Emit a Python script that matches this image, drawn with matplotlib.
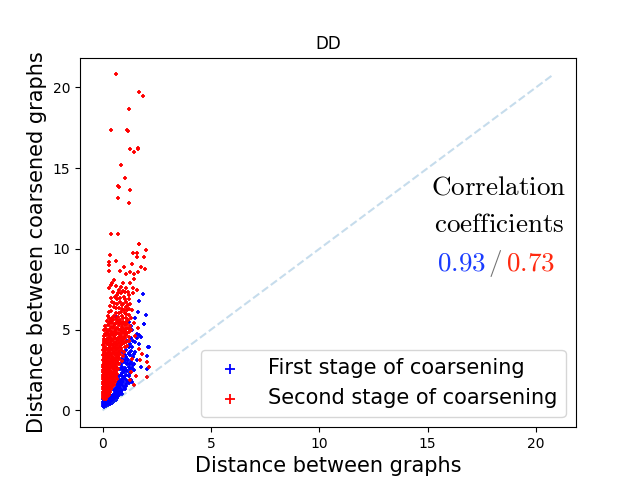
import matplotlib as mpl
mpl.use('Agg')
import matplotlib.pyplot as plt

plt.rcParams['mathtext.fontset'] = 'cm'

# first stage of coarsening (blue)
blue_pts = [
    (1.87, 7.18), (1.70, 6.77), (1.64, 6.1), (2.0, 5.92), (1.51, 5.73), (0.63, 5.78),
    (1.93, 5.36), (1.59, 4.74), (1.79, 4.55), (1.41, 4.3), (2.16, 3.93), (2.05, 3.35),
    (1.79, 2.69), (2.05, 2.59), (1.44, 2.86), (1.59, 3.1),
    (1.22, 5.5), (1.3, 5.2), (1.36, 5.0), (1.67, 4.66), (1.9, 5.34), (1.59, 4.47),
    (1.51, 4.24), (1.36, 3.93), (1.44, 3.52), (2.1, 3.93), (1.22, 3.52), (1.13, 3.21),
    (1.28, 2.9), (1.06, 2.48), (0.98, 2.07), (0.9, 1.76), (0.75, 1.45), (0.6, 1.14),
    (1.25, 3.4), (1.18, 3.1), (1.3, 3.0), (1.12, 2.85), (1.22, 2.7), (1.35, 2.6),
    (1.05, 2.6), (1.15, 2.45), (1.28, 2.3), (0.98, 2.35), (1.08, 2.2), (1.2, 2.1),
    (0.92, 2.1), (1.02, 1.95), (1.14, 1.85), (0.86, 1.9), (0.95, 1.75), (1.06, 1.65),
    (0.8, 1.7), (0.88, 1.55), (0.98, 1.45), (1.1, 1.5), (0.74, 1.5), (0.82, 1.38),
    (0.92, 1.28), (0.68, 1.35), (0.76, 1.22), (0.85, 1.12), (0.62, 1.2), (0.7, 1.08),
    (0.78, 0.98), (0.56, 1.05), (0.64, 0.95), (0.72, 0.88), (0.5, 0.95), (0.58, 0.85),
    (0.66, 0.78), (1.0, 3.0), (0.9, 2.7), (1.1, 3.3), (1.4, 3.3), (1.32, 3.7),
    (1.2, 3.9), (1.05, 3.4), (0.95, 2.5), (0.85, 2.2), (0.75, 1.9), (0.7, 1.65), (0.6, 1.4),
    (0.95, 3.6), (1.1, 3.75), (1.25, 4.1), (1.15, 4.3), (1.3, 4.5), (0.9, 3.2),
    (1.05, 3.15), (1.2, 3.55), (0.85, 2.9), (1.15, 2.95), (0.8, 2.55), (0.9, 2.3),
    (1.25, 2.55), (0.78, 2.1), (0.95, 1.95), (1.3, 1.9), (0.72, 1.75), (1.2, 1.7),
    (0.65, 1.55), (1.02, 1.3), (0.55, 1.25), (0.88, 1.02), (0.45, 0.85), (0.62, 0.72),
    (0.35, 0.95), (1.4, 2.8), (1.45, 2.5), (1.5, 3.6), (1.7, 4.1), (1.35, 1.75),
    (0.02, 0.25), (0.05, 0.3), (0.08, 0.22), (0.12, 0.32), (0.16, 0.28), (0.2, 0.38),
    (0.25, 0.33), (0.3, 0.42), (0.35, 0.38), (0.4, 0.48), (0.45, 0.45), (0.5, 0.55),
    (0.55, 0.6), (0.6, 0.65), (0.03, 0.4), (0.07, 0.45), (0.1, 0.5), (0.14, 0.42),
    (0.18, 0.52), (0.22, 0.47), (0.27, 0.55), (0.32, 0.5), (0.37, 0.6), (0.42, 0.58),
    (0.47, 0.68), (0.52, 0.72), (0.04, 0.55), (0.08, 0.62), (0.12, 0.58), (0.17, 0.66),
    (0.22, 0.62), (0.28, 0.7), (0.33, 0.65), (0.38, 0.75), (0.43, 0.8), (0.03, 0.7),
    (0.09, 0.75), (0.14, 0.8), (0.2, 0.76), (0.26, 0.85), (0.31, 0.82), (0.06, 0.85),
    (0.11, 0.92), (0.16, 0.98),
]

# second stage of coarsening (red)
red_pts = [
    # outliers
    (0.64, 20.8), (1.70, 19.7), (1.88, 19.46), (1.24, 18.65), (0.37, 17.35), (1.13, 17.35),
    (1.19, 17.3), (1.28, 16.17), (1.65, 16.27), (1.65, 16.17), (1.47, 15.99), (0.83, 15.17),
    (1.05, 14.37), (0.72, 13.87), (0.78, 13.81), (1.28, 13.62), (0.72, 13.12), (1.24, 12.87),
    (0.37, 10.95), (0.69, 10.91), (1.70, 10.33),
    # upper band
    (1.68, 10.31), (2.0, 9.9), (0.35, 9.65), (1.41, 9.75), (1.59, 9.75), (1.59, 9.52),
    (1.91, 9.52), (0.64, 9.27), (0.32, 9.19), (1.36, 9.07), (0.31, 8.99), (0.99, 8.86),
    (1.77, 8.9), (1.94, 8.76), (0.32, 8.65), (0.79, 8.61), (1.27, 8.55), (1.06, 8.43),
    (1.45, 8.43), (1.65, 8.59), (0.52, 8.07), (1.47, 8.14), (0.96, 7.91), (1.25, 7.87),
    (0.41, 7.76), (1.40, 7.6), (0.78, 7.45), (1.02, 7.35), (1.17, 7.35), (1.39, 7.25),
    (0.31, 7.55), (0.72, 7.25), (0.87, 7.25), (1.61, 7.48), (0.98, 7.04), (0.56, 7.0),
    (0.67, 6.88), (1.21, 6.88), (0.79, 6.73), (1.09, 6.73), (0.55, 6.63), (0.95, 6.57),
    (1.16, 6.52), (1.36, 6.21), (1.06, 6.38), (0.63, 6.32), (0.90, 6.25), (1.13, 6.21),
    (0.41, 6.17), (1.02, 6.05), (0.75, 6.05), (1.21, 5.9), (0.55, 5.84), (0.90, 5.84),
    (0.32, 5.73), (1.09, 5.73),
    (0.45, 7.9), (0.6, 7.7), (0.85, 7.65), (1.1, 7.55), (0.5, 7.35), (0.95, 7.4),
    (0.65, 7.15), (1.2, 7.15), (0.4, 6.95), (0.8, 6.95), (1.05, 6.9), (0.45, 6.7),
    (0.68, 6.6), (0.88, 6.5), (1.25, 6.6), (0.35, 6.45), (0.52, 6.4), (0.75, 6.35),
    (0.98, 6.2), (1.2, 6.3), (0.3, 6.1), (0.6, 6.0), (0.85, 6.1), (1.1, 5.98),
    (0.25, 5.85), (0.45, 5.75), (0.7, 5.8), (0.95, 5.7), (1.3, 5.75), (0.38, 5.6),
    (0.62, 5.65), (0.82, 5.62),
    # right side stragglers
    (2.05, 3.0), (2.12, 2.69), (2.05, 2.07), (1.44, 1.55), (1.82, 3.52), (1.74, 3.1),
    (1.67, 3.83), (1.5, 4.6), (1.62, 5.1), (1.45, 5.4), (1.38, 3.2), (1.3, 2.4),
    (1.55, 2.1), (1.25, 1.9),
    # dense core
    (0.22, 5.55), (0.35, 5.48), (0.48, 5.6), (0.6, 5.42), (0.71, 5.52), (0.84, 5.38),
    (0.95, 5.5), (1.08, 5.45), (1.18, 5.58),
    (0.12, 5.22), (0.27, 5.3), (0.4, 5.15), (0.53, 5.25), (0.66, 5.12), (0.78, 5.28),
    (0.9, 5.18), (1.02, 5.3), (1.15, 5.1), (1.27, 5.24),
    (0.08, 4.95), (0.2, 4.85), (0.33, 4.98), (0.45, 4.88), (0.57, 4.93), (0.7, 4.82),
    (0.82, 4.97), (0.93, 4.86), (1.05, 4.92), (1.2, 4.84), (1.32, 4.96),
    (0.06, 4.6), (0.17, 4.68), (0.29, 4.55), (0.41, 4.65), (0.52, 4.58), (0.64, 4.7),
    (0.75, 4.52), (0.87, 4.63), (0.99, 4.57), (1.1, 4.68), (1.24, 4.55),
    (0.05, 4.32), (0.14, 4.25), (0.25, 4.38), (0.37, 4.28), (0.49, 4.35), (0.6, 4.22),
    (0.72, 4.33), (0.84, 4.27), (0.96, 4.38), (1.08, 4.24), (1.2, 4.3),
    (0.04, 4.02), (0.13, 3.95), (0.23, 4.08), (0.34, 3.98), (0.46, 4.05), (0.57, 3.92),
    (0.68, 4.03), (0.8, 3.97), (0.91, 4.08), (1.03, 3.93), (1.14, 4.0),
    (0.03, 3.72), (0.11, 3.65), (0.21, 3.78), (0.31, 3.68), (0.42, 3.75), (0.53, 3.62),
    (0.64, 3.73), (0.75, 3.66), (0.86, 3.77), (0.97, 3.64),
    (0.03, 3.42), (0.1, 3.36), (0.19, 3.48), (0.29, 3.38), (0.39, 3.45), (0.5, 3.33),
    (0.6, 3.44), (0.71, 3.37), (0.82, 3.47), (0.93, 3.35),
    (0.02, 3.12), (0.09, 3.05), (0.17, 3.18), (0.27, 3.08), (0.37, 3.15), (0.47, 3.03),
    (0.57, 3.14), (0.67, 3.07), (0.78, 3.17), (0.89, 3.05),
    (0.02, 2.82), (0.08, 2.76), (0.16, 2.88), (0.25, 2.78), (0.34, 2.85), (0.44, 2.73),
    (0.54, 2.84), (0.64, 2.77), (0.74, 2.87),
    (0.02, 2.52), (0.07, 2.46), (0.14, 2.58), (0.23, 2.48), (0.32, 2.55), (0.41, 2.43),
    (0.51, 2.54), (0.61, 2.47), (0.71, 2.57),
    (0.02, 2.22), (0.07, 2.16), (0.13, 2.28), (0.21, 2.18), (0.3, 2.25), (0.39, 2.13),
    (0.48, 2.24), (0.58, 2.17), (0.68, 2.27),
    (0.02, 1.92), (0.06, 1.86), (0.12, 1.98), (0.19, 1.88), (0.27, 1.95), (0.36, 1.83),
    (0.45, 1.94), (0.55, 1.87), (0.65, 1.97),
    (0.02, 1.62), (0.06, 1.56), (0.11, 1.68), (0.18, 1.58), (0.25, 1.65), (0.33, 1.53),
    (0.42, 1.64), (0.51, 1.57),
    (0.02, 1.32), (0.05, 1.26), (0.1, 1.38), (0.16, 1.28), (0.23, 1.35), (0.31, 1.23),
    (0.39, 1.34),
    (0.02, 1.02), (0.05, 0.96), (0.09, 1.08), (0.15, 0.98), (0.21, 1.05), (0.28, 0.93),
    (0.02, 0.75), (0.05, 0.7), (0.09, 0.8), (0.14, 0.72),
    (0.28, 5.35), (0.43, 5.4), (0.58, 5.33), (0.75, 5.4), (0.89, 5.34), (1.0, 5.41), (1.12, 5.36),
    (0.15, 5.05), (0.32, 5.0), (0.47, 5.08), (0.61, 5.02), (0.73, 5.07), (0.85, 5.0),
    (0.98, 5.06), (1.1, 5.02), (1.22, 5.07),
    (0.1, 4.76), (0.24, 4.72), (0.38, 4.78), (0.5, 4.73), (0.62, 4.79), (0.79, 4.74),
    (0.91, 4.77), (1.03, 4.73), (1.15, 4.79),
    (0.09, 4.45), (0.21, 4.42), (0.33, 4.48), (0.44, 4.43), (0.56, 4.47), (0.68, 4.41),
    (0.8, 4.46), (0.92, 4.44), (1.04, 4.48),
    (0.08, 4.15), (0.19, 4.12), (0.3, 4.18), (0.41, 4.13), (0.53, 4.17), (0.64, 4.11),
    (0.76, 4.16), (0.88, 4.14), (1.0, 4.18),
    (0.07, 3.86), (0.17, 3.82), (0.28, 3.88), (0.38, 3.83), (0.5, 3.87), (0.61, 3.81),
    (0.72, 3.86), (0.84, 3.84),
    (0.06, 3.56), (0.15, 3.52), (0.25, 3.58), (0.35, 3.53), (0.46, 3.57), (0.56, 3.51),
    (0.67, 3.56), (0.78, 3.54),
    (0.05, 3.26), (0.13, 3.22), (0.23, 3.28), (0.32, 3.23), (0.43, 3.27), (0.53, 3.21),
    (0.63, 3.26), (0.74, 3.24),
    (0.05, 2.96), (0.12, 2.92), (0.21, 2.98), (0.3, 2.93), (0.4, 2.97), (0.5, 2.91),
    (0.6, 2.96), (0.7, 2.94),
    (0.04, 2.66), (0.11, 2.62), (0.19, 2.68), (0.28, 2.63), (0.37, 2.67), (0.47, 2.61),
    (0.57, 2.66), (0.67, 2.64),
    (0.04, 2.36), (0.1, 2.32), (0.17, 2.38), (0.26, 2.33), (0.35, 2.37), (0.44, 2.31),
    (0.53, 2.36), (0.63, 2.34),
    (0.04, 2.06), (0.09, 2.02), (0.16, 2.08), (0.24, 2.03), (0.33, 2.07), (0.42, 2.01),
    (0.51, 2.06), (0.61, 2.04),
    (0.04, 1.76), (0.09, 1.72), (0.15, 1.78), (0.22, 1.73), (0.3, 1.77), (0.38, 1.71),
    (0.47, 1.76), (0.57, 1.74),
    (0.04, 1.46), (0.08, 1.42), (0.14, 1.48), (0.2, 1.43), (0.27, 1.47), (0.35, 1.41),
    (0.44, 1.46),
    (0.04, 1.16), (0.07, 1.12), (0.12, 1.18), (0.18, 1.13), (0.25, 1.17), (0.33, 1.11),
    (0.04, 0.88), (0.07, 0.84), (0.12, 0.9), (0.17, 0.85), (0.24, 0.89),
]

blue_x = [p[0] for p in blue_pts]
blue_y = [p[1] for p in blue_pts]
red_x = [p[0] for p in red_pts]
red_y = [p[1] for p in red_pts]

corr_first = '0.93'
corr_second = '0.73'

fig = plt.figure(figsize=(6.4, 4.8), dpi=100)
ax = fig.add_subplot(111)

top = max(blue_x + blue_y + red_x + red_y)
ax.plot([0, top], [0, top], '--', color='C0', alpha=0.25, linewidth=1.5)

ax.scatter(blue_x, blue_y, marker='+', s=5, color='blue', linewidths=1.3,
           label='First stage of coarsening')
ax.scatter(red_x, red_y, marker='+', s=5, color='red', linewidths=1.3,
           label='Second stage of coarsening')

ax.set_title('DD')
ax.set_xlabel('Distance between graphs', fontsize=15)
ax.set_ylabel('Distance between coarsened graphs', fontsize=15)
ax.legend(loc='lower right', fontsize=15, markerscale=3.5)

ax.text(0.845, 0.649, r'$\mathrm{Correlation}$', transform=ax.transAxes,
        ha='center', va='center', fontsize=19.5)
ax.text(0.845, 0.546, r'$\mathrm{coefficients}$', transform=ax.transAxes,
        ha='center', va='center', fontsize=19.5)
ax.text(0.837, 0.443, r'$/$', transform=ax.transAxes,
        ha='center', va='center', fontsize=19.5, color='0.45')
ax.text(0.818, 0.443, r'$%s$' % corr_first, transform=ax.transAxes,
        ha='right', va='center', fontsize=19.5, color='#1a3cff')
ax.text(0.858, 0.443, r'$%s$' % corr_second, transform=ax.transAxes,
        ha='left', va='center', fontsize=19.5, color='#ff2a10')

plt.savefig('out.png')
